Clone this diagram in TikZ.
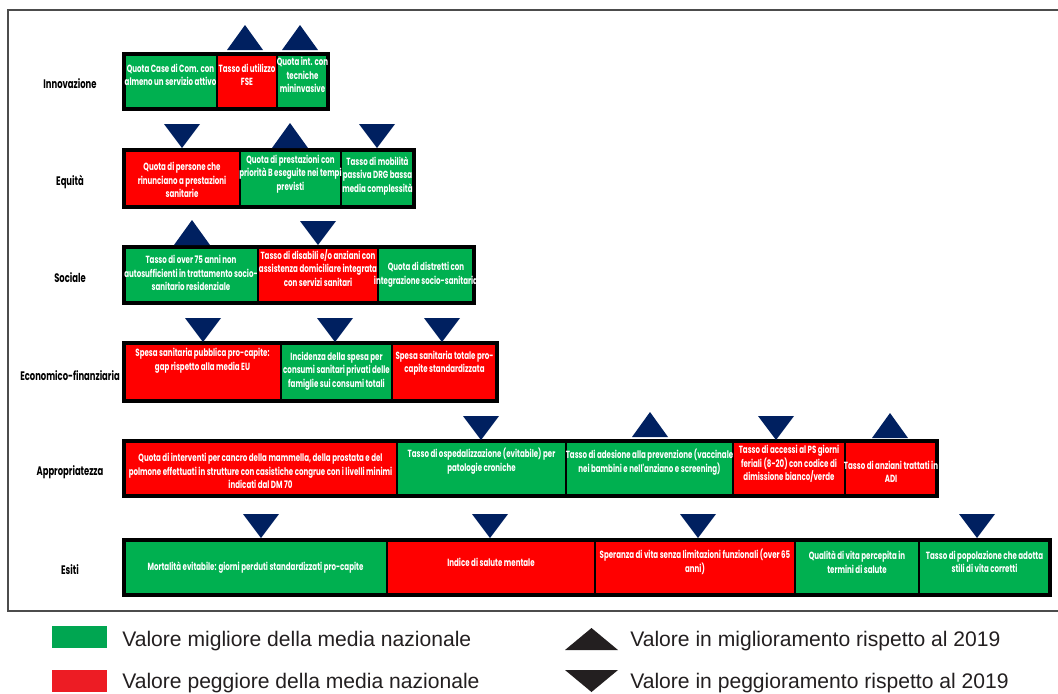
\documentclass[tikz,border=0pt]{standalone}
\usepackage{fontspec}
\usepackage{tikz}
\usetikzlibrary{positioning, calc}
\setmainfont{Liberation Sans}
\newfontfamily\cellfont[FakeStretch=0.68]{Poppins}
\newfontfamily\legfont{Liberation Sans}

\definecolor{good}{HTML}{00B050}
\definecolor{bad}{HTML}{FF0000}
\definecolor{navy}{HTML}{002060}
\definecolor{goodleg}{HTML}{00A651}
\definecolor{badleg}{HTML}{ED1C24}
\definecolor{legdark}{HTML}{231F20}

\tikzset{
  cellbox/.style={draw=black, line width=1.3pt},
  barframe/.style={draw=black, line width=2.2pt},
  celltext/.style={text=white, align=center, inner sep=0pt,
    font=\cellfont\bfseries\fontsize{7.4}{9.6}\selectfont},
  rowlabel/.style={text=black, inner sep=0pt,
    font=\cellfont\bfseries\fontsize{8.8}{11}\selectfont},
  legtext/.style={text=legdark, anchor=west, inner sep=0pt,
    font=\legfont\fontsize{15}{17}\selectfont},
  trend/.style={fill=navy},
  frame/.style={draw=black!70, line width=0.9pt}
}

% trend triangles: x of centre, y of base line
\newcommand{\trendup}[2]{\fill[trend] ({#1-18},#2) -- ({#1+18},#2) -- (#1,{#2-25}) -- cycle;}
\newcommand{\trenddown}[2]{\fill[trend] ({#1-18},{#2-24}) -- ({#1+18},{#2-24}) -- (#1,#2) -- cycle;}

\begin{document}
\begin{tikzpicture}[x=0.025cm, y=-0.025cm]
\useasboundingbox (0,0) rectangle (1058,693);
\draw[frame] (1060,10) -- (8,10) -- (8,611) -- (1060,611);

% Innovazione
\node[rowlabel] (innovazione) at (70,84) {Innovazione};
\filldraw[cellbox, fill=good] (124,54) rectangle (217,109);
\filldraw[cellbox, fill=bad] (217,54) rectangle (277,109);
\filldraw[cellbox, fill=good] (277,54) rectangle (328,109);
\draw[barframe] (124,54) rectangle (328,109);
\node[celltext] (inn1) at (170.5,75) {Quota Case di Com. con\\almeno un servizio attivo};
\node[celltext] (inn2) at (247,75) {Tasso di utilizzo\\FSE};
\node[celltext] (inn3) at (302.5,75) {Quota int. con\\tecniche\\mininvasive};
\trendup{245}{50}
\trendup{300}{50}

% Equita
\node[rowlabel] (equita) at (70,182) {Equità};
\filldraw[cellbox, fill=bad] (124,150) rectangle (240,207);
\filldraw[cellbox, fill=good] (240,150) rectangle (341,207);
\filldraw[cellbox, fill=good] (341,150) rectangle (414,207);
\draw[barframe] (124,150) rectangle (414,207);
\node[celltext] (eq1) at (182,180) {Quota di persone che\\rinunciano a prestazioni\\sanitarie};
\node[celltext] (eq2) at (290.5,174) {Quota di prestazioni con\\priorità B eseguite nei tempi\\previsti};
\node[celltext] (eq3) at (377.5,176) {Tasso di mobilità\\passiva DRG bassa\\media complessità};
\trenddown{182}{148}
\trendup{290}{148}
\trenddown{377}{148}

% Sociale
\node[rowlabel] (sociale) at (70,278) {Sociale};
\filldraw[cellbox, fill=good] (124,247) rectangle (258,303);
\filldraw[cellbox, fill=bad] (258,247) rectangle (378,303);
\filldraw[cellbox, fill=good] (378,247) rectangle (474,303);
\draw[barframe] (124,247) rectangle (474,303);
\node[celltext] (soc1) at (191,273) {Tasso di over 75 anni non\\autosufficienti in trattamento socio-\\sanitario residenziale};
\node[celltext] (soc2) at (318,268) {Tasso di disabili e/o anziani con\\assistenza domiciliare integrata\\con servizi sanitari};
\node[celltext] (soc3) at (426,275) {Quota di distretti con\\integrazione socio-sanitaria};
\trendup{192}{245}
\trenddown{318}{245}

% Economico-finanziaria
\node[rowlabel] (economico) at (70,376) {Economico-finanziaria};
\filldraw[cellbox, fill=bad] (124,343) rectangle (281,401);
\filldraw[cellbox, fill=good] (281,343) rectangle (392,401);
\filldraw[cellbox, fill=bad] (392,343) rectangle (497,401);
\draw[barframe] (124,343) rectangle (497,401);
\node[celltext] (eco1) at (202.5,361) {Spesa sanitaria pubblica pro-capite:\\gap rispetto alla media EU};
\node[celltext] (eco2) at (336.5,371) {Incidenza della spesa per\\consumi sanitari privati delle\\famiglie sui consumi totali};
\node[celltext] (eco3) at (444.5,363) {Spesa sanitaria totale pro-\\capite standardizzata};
\trenddown{203}{342}
\trenddown{335}{342}
\trenddown{442}{342}

% Appropriatezza
\node[rowlabel] (appropriatezza) at (70,472) {Appropriatezza};
\filldraw[cellbox, fill=bad] (124,441) rectangle (397,496);
\filldraw[cellbox, fill=good] (397,441) rectangle (566,496);
\filldraw[cellbox, fill=good] (566,441) rectangle (733,496);
\filldraw[cellbox, fill=bad] (733,441) rectangle (845,496);
\filldraw[cellbox, fill=bad] (845,441) rectangle (937,496);
\draw[barframe] (124,441) rectangle (937,496);
\node[celltext] (app1) at (260.5,471) {Quota di interventi per cancro della mammella, della prostata e del\\polmone effettuati in strutture con casistiche congrue con i livelli minimi\\indicati dal DM 70};
\node[celltext] (app2) at (481.5,461) {Tasso di ospedalizzazione (evitabile) per\\patologie croniche};
\node[celltext] (app3) at (649.5,462) {Tasso di adesione alla prevenzione (vaccinale\\nei bambini e nell'anziano e screening)};
\node[celltext] (app4) at (789,464) {Tasso di accessi al PS giorni\\feriali (8-20) con codice di\\dimissione bianco/verde};
\node[celltext] (app5) at (891,472) {Tasso di anziani trattati in\\ADI};
\trenddown{481}{440}
\trendup{650}{437}
\trenddown{776}{440}
\trendup{890}{438}

% Esiti
\node[rowlabel] (esiti) at (70,570) {Esiti};
\filldraw[cellbox, fill=good] (124,540) rectangle (387,595);
\filldraw[cellbox, fill=bad] (387,540) rectangle (595,595);
\filldraw[cellbox, fill=bad] (595,540) rectangle (795,595);
\filldraw[cellbox, fill=good] (795,540) rectangle (919,595);
\filldraw[cellbox, fill=good] (919,540) rectangle (1050,595);
\draw[barframe] (124,540) rectangle (1050,595);
\node[celltext] (esi1) at (255.5,568) {Mortalità evitabile: giorni perduti standardizzati pro-capite};
\node[celltext] (esi2) at (491,562) {Indice di salute mentale};
\node[celltext] (esi3) at (695,562) {Speranza di vita senza limitazioni funzionali (over 65\\anni)};
\node[celltext] (esi4) at (857,562) {Qualità di vita percepita in\\termini di salute};
\node[celltext] (esi5) at (984.5,562) {Tasso di popolazione che adotta\\stili di vita corretti};
\trenddown{261}{538}
\trenddown{490}{538}
\trenddown{698}{538}
\trenddown{977}{538}

% legenda
\fill[goodleg] (52,626) rectangle (107,648);
\fill[badleg] (52,670) rectangle (107,692);
\node[legtext] (leggood) at (122,641) {Valore migliore della media nazionale};
\node[legtext] (legbad) at (122,683) {Valore peggiore della media nazionale};
\fill[legdark] (565,650) -- (618,650) -- (591.5,628) -- cycle;
\fill[legdark] (565,670) -- (618,670) -- (591.5,692) -- cycle;
\node[legtext] (legup) at (630,641) {Valore in miglioramento rispetto al 2019};
\node[legtext] (legdown) at (630,683) {Valore in peggioramento rispetto al 2019};
\end{tikzpicture}
\end{document}
